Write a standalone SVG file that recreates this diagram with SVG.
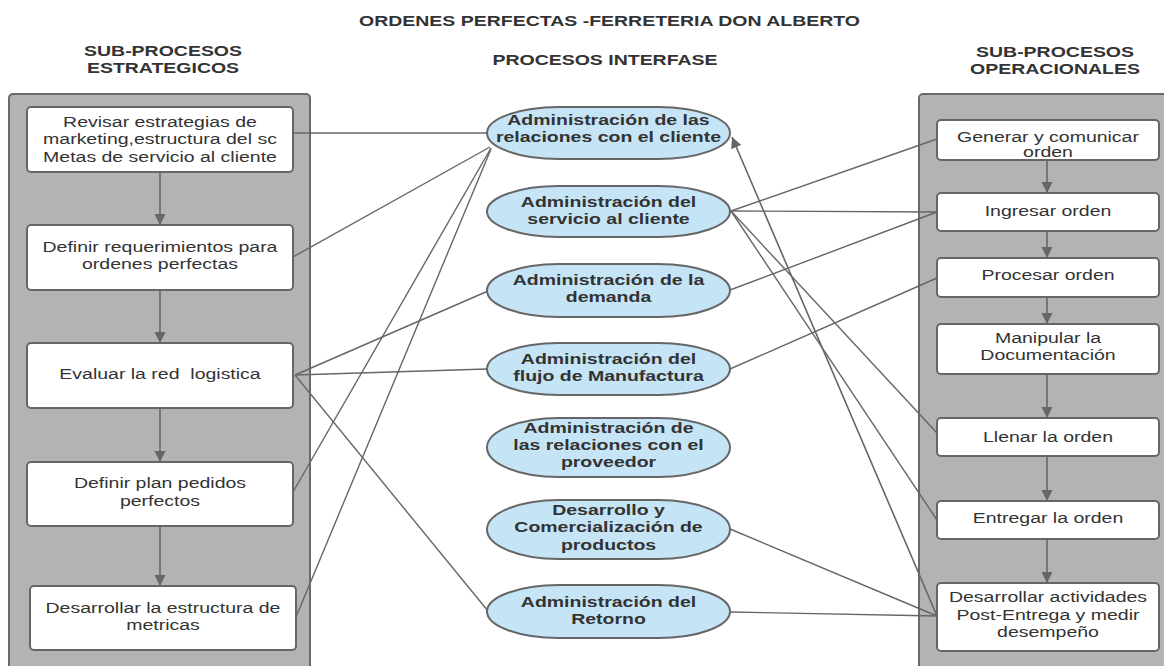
<svg xmlns="http://www.w3.org/2000/svg" width="1164" height="666" viewBox="0 0 1164 666">
  <style>
    text { font-family: "Liberation Sans", Arial, sans-serif; font-size: 15px; fill: #333; text-anchor: middle; }
    .h { font-weight: bold; }
    .b { font-weight: bold; }
    .lane { fill: #b3b3b3; stroke: #6a6a6a; stroke-width: 2; }
    .box { fill: #ffffff; stroke: #666; stroke-width: 2; }
    .oval { fill: #c5e4f6; stroke: #666; stroke-width: 2; }
    .link { stroke: #666; stroke-width: 1.4; fill: none; }
    .flow { stroke: #666; stroke-width: 1.6; fill: none; marker-end: url(#head); }
  </style>
  <defs>
    <marker id="head" markerUnits="userSpaceOnUse" markerWidth="12" markerHeight="12" refX="11" refY="5.5" orient="auto">
      <path d="M0,0 L11,5.5 L0,11 z" fill="#666"/>
    </marker>
  </defs>

  <rect width="1164" height="666" fill="#ffffff"/>

  <!-- headings -->
  <g id="headings">
    <text class="h" transform="translate(609.5 0) scale(1.3 1)" y="26">ORDENES PERFECTAS -FERRETERIA DON ALBERTO</text>
    <text class="h" transform="translate(605 0) scale(1.3 1)" y="65">PROCESOS INTERFASE</text>
    <text class="h" transform="translate(163 0) scale(1.3 1)" y="56">SUB-PROCESOS</text>
    <text class="h" transform="translate(163 0) scale(1.3 1)" y="73">ESTRATEGICOS</text>
    <text class="h" transform="translate(1055 0) scale(1.3 1)" y="57">SUB-PROCESOS</text>
    <text class="h" transform="translate(1055 0) scale(1.3 1)" y="74">OPERACIONALES</text>
  </g>

  <!-- swimlane containers -->
  <rect id="lane-estrategicos" class="lane" x="9" y="94" width="301" height="590" rx="4"/>
  <rect id="lane-operacionales" class="lane" x="919" y="94" width="260" height="590" rx="4"/>

  <!-- connectors -->
  <g id="connectors">
    <line class="link" x1="293" y1="133" x2="487" y2="133"/>
    <line class="link" x1="293" y1="257" x2="490" y2="147"/>
    <line class="link" x1="293" y1="492" x2="491" y2="148"/>
    <line class="link" x1="296" y1="617" x2="491" y2="149"/>
    <line class="link" x1="295" y1="375" x2="488" y2="291"/>
    <line class="link" x1="295" y1="375" x2="487" y2="369"/>
    <line class="link" x1="295" y1="375" x2="488" y2="611"/>

    <line class="link" x1="731" y1="211" x2="937" y2="139"/>
    <line class="link" x1="731" y1="211" x2="937" y2="212"/>
    <line class="link" x1="731" y1="211" x2="937" y2="433"/>
    <line class="link" x1="731" y1="211" x2="937" y2="520"/>
    <line class="link" x1="730" y1="290" x2="937" y2="212"/>
    <line class="link" x1="730" y1="369" x2="937" y2="278"/>
    <line class="link" x1="730" y1="529" x2="937" y2="616"/>
    <line class="link" x1="730" y1="612" x2="937" y2="616"/>
    <line class="flow" x1="937" y1="616" x2="732" y2="137"/>

    <!-- strategic sequence -->
    <line class="flow" x1="160" y1="172" x2="160" y2="225"/>
    <line class="flow" x1="160" y1="290" x2="160" y2="343"/>
    <line class="flow" x1="160" y1="408" x2="160" y2="462"/>
    <line class="flow" x1="160" y1="526" x2="160" y2="586"/>

    <!-- operational sequence -->
    <line class="flow" x1="1047" y1="160" x2="1047" y2="193"/>
    <line class="flow" x1="1047" y1="231" x2="1047" y2="258"/>
    <line class="flow" x1="1047" y1="297" x2="1047" y2="324"/>
    <line class="flow" x1="1047" y1="374" x2="1047" y2="418"/>
    <line class="flow" x1="1047" y1="456" x2="1047" y2="501"/>
    <line class="flow" x1="1047" y1="539" x2="1047" y2="583"/>
  </g>

  <!-- strategic sub-processes -->
  <g id="s1">
    <rect class="box" x="27" y="107" width="266" height="65" rx="4"/>
    <text transform="translate(160 0) scale(1.3 1)" y="127">Revisar estrategias de</text>
    <text transform="translate(160 0) scale(1.3 1)" y="144.5">marketing,estructura del sc</text>
    <text transform="translate(160 0) scale(1.3 1)" y="162">Metas de servicio al cliente</text>
  </g>
  <g id="s2">
    <rect class="box" x="27" y="225" width="266" height="65" rx="4"/>
    <text transform="translate(160 0) scale(1.3 1)" y="252">Definir requerimientos para</text>
    <text transform="translate(160 0) scale(1.3 1)" y="269">ordenes perfectas</text>
  </g>
  <g id="s3">
    <rect class="box" x="27" y="343" width="266" height="65" rx="4"/>
    <text transform="translate(160 0) scale(1.3 1)" y="379" style="white-space:pre">Evaluar la red  logistica</text>
  </g>
  <g id="s4">
    <rect class="box" x="27" y="462" width="266" height="64" rx="4"/>
    <text transform="translate(160 0) scale(1.3 1)" y="488">Definir plan pedidos</text>
    <text transform="translate(160 0) scale(1.3 1)" y="506">perfectos</text>
  </g>
  <g id="s5">
    <rect class="box" x="30" y="586" width="266" height="64" rx="4"/>
    <text transform="translate(163 0) scale(1.3 1)" y="613">Desarrollar la estructura de</text>
    <text transform="translate(163 0) scale(1.3 1)" y="630">metricas</text>
  </g>

  <!-- interface processes (rounded capsules) -->
  <g id="i1">
    <rect class="oval" x="487" y="107" width="243" height="52" rx="72" ry="26"/>
    <text class="b" transform="translate(608.5 0) scale(1.3 1)" y="125">Administración de las</text>
    <text class="b" transform="translate(608.5 0) scale(1.3 1)" y="142">relaciones con el cliente</text>
  </g>
  <g id="i2">
    <rect class="oval" x="487" y="186" width="243" height="51" rx="72" ry="25.5"/>
    <text class="b" transform="translate(608.5 0) scale(1.3 1)" y="207">Administración del</text>
    <text class="b" transform="translate(608.5 0) scale(1.3 1)" y="224">servicio al cliente</text>
  </g>
  <g id="i3">
    <rect class="oval" x="487" y="264" width="243" height="53" rx="72" ry="26.5"/>
    <text class="b" transform="translate(608.5 0) scale(1.3 1)" y="285">Administración de la</text>
    <text class="b" transform="translate(608.5 0) scale(1.3 1)" y="302.5">demanda</text>
  </g>
  <g id="i4">
    <rect class="oval" x="487" y="343" width="243" height="52" rx="72" ry="26"/>
    <text class="b" transform="translate(608.5 0) scale(1.3 1)" y="364">Administración del</text>
    <text class="b" transform="translate(608.5 0) scale(1.3 1)" y="381.5">flujo de Manufactura</text>
  </g>
  <g id="i5">
    <rect class="oval" x="487" y="418" width="243" height="59" rx="72" ry="29.5"/>
    <text class="b" transform="translate(608.5 0) scale(1.3 1)" y="433">Administración de</text>
    <text class="b" transform="translate(608.5 0) scale(1.3 1)" y="450">las relaciones con el</text>
    <text class="b" transform="translate(608.5 0) scale(1.3 1)" y="467">proveedor</text>
  </g>
  <g id="i6">
    <rect class="oval" x="487" y="500" width="243" height="59" rx="72" ry="29.5"/>
    <text class="b" transform="translate(608.5 0) scale(1.3 1)" y="515">Desarrollo y</text>
    <text class="b" transform="translate(608.5 0) scale(1.3 1)" y="532.5">Comercialización de</text>
    <text class="b" transform="translate(608.5 0) scale(1.3 1)" y="550">productos</text>
  </g>
  <g id="i7">
    <rect class="oval" x="487" y="585" width="243" height="53" rx="72" ry="26.5"/>
    <text class="b" transform="translate(608.5 0) scale(1.3 1)" y="607">Administración del</text>
    <text class="b" transform="translate(608.5 0) scale(1.3 1)" y="624">Retorno</text>
  </g>

  <!-- operational sub-processes -->
  <g id="o1">
    <rect class="box" x="937" y="120" width="222" height="40" rx="4"/>
    <text transform="translate(1048 0) scale(1.3 1)" y="142">Generar y comunicar</text>
    <text transform="translate(1048 0) scale(1.3 1)" y="157">orden</text>
  </g>
  <g id="o2">
    <rect class="box" x="937" y="193" width="222" height="38" rx="4"/>
    <text transform="translate(1048 0) scale(1.3 1)" y="216">Ingresar orden</text>
  </g>
  <g id="o3">
    <rect class="box" x="937" y="258" width="222" height="39" rx="4"/>
    <text transform="translate(1048 0) scale(1.3 1)" y="280">Procesar orden</text>
  </g>
  <g id="o4">
    <rect class="box" x="937" y="324" width="222" height="50" rx="4"/>
    <text transform="translate(1048 0) scale(1.3 1)" y="343">Manipular la</text>
    <text transform="translate(1048 0) scale(1.3 1)" y="360">Documentación</text>
  </g>
  <g id="o5">
    <rect class="box" x="937" y="418" width="222" height="38" rx="4"/>
    <text transform="translate(1048 0) scale(1.3 1)" y="442">Llenar la orden</text>
  </g>
  <g id="o6">
    <rect class="box" x="937" y="501" width="222" height="38" rx="4"/>
    <text transform="translate(1048 0) scale(1.3 1)" y="523">Entregar la orden</text>
  </g>
  <g id="o7">
    <rect class="box" x="937" y="583" width="222" height="68" rx="4"/>
    <text transform="translate(1048 0) scale(1.3 1)" y="602">Desarrollar actividades</text>
    <text transform="translate(1048 0) scale(1.3 1)" y="620">Post-Entrega y medir</text>
    <text transform="translate(1048 0) scale(1.3 1)" y="637">desempeño</text>
  </g>
</svg>
